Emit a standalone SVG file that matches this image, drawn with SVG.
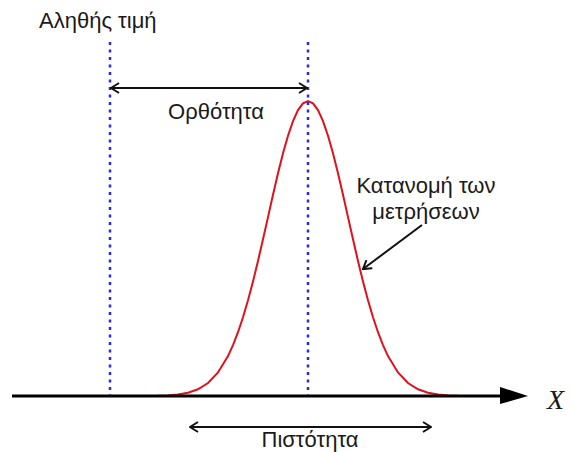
<svg xmlns="http://www.w3.org/2000/svg" width="573" height="452" viewBox="0 0 573 452">
<style>
.lbl{font-family:"Liberation Sans",Arial,sans-serif;font-size:22px;fill:#1a1a1a}
.dot{stroke:#2a2ae0;stroke-width:2.5;stroke-dasharray:3 4.5;fill:none}
.arr{stroke:#111;stroke-width:2;fill:none;marker-end:url(#open);marker-start:url(#openS)}
</style>
<defs>
<marker id="open" viewBox="0 0 12 12" refX="11" refY="6" markerWidth="12" markerHeight="12" markerUnits="userSpaceOnUse" orient="auto">
<path d="M3,1 L11,6 L3,11" fill="none" stroke="#111" stroke-width="2"/>
</marker>
<marker id="openS" viewBox="0 0 12 12" refX="1" refY="6" markerWidth="12" markerHeight="12" markerUnits="userSpaceOnUse" orient="auto">
<path d="M9,1 L1,6 L9,11" fill="none" stroke="#111" stroke-width="2"/>
</marker>
</defs>
<g id="curve">
<polyline fill="none" stroke="#e0101c" stroke-width="2" points="88,396 158,395.8 168,395.4 178,394.5 188,392.7 198,389.3 208,383 218,372.5 228,356.1 233,345.1 238,332.2 243,317.2 248,300.2 253,281.4 258,260.9 263,239.3 268,217.1 273,194.8 278,173.3 283,153.3 288,135.7 293,121.1 298,110.1 303,103.3 308,101 313,103.3 318,110.1 323,121.1 328,135.7 333,153.3 338,173.3 343,194.8 348,217.1 353,239.3 358,260.9 363,281.4 368,300.2 373,317.2 378,332.2 383,345.1 388,356.1 398,372.5 408,383 418,389.3 428,392.7 438,394.5 448,395.4 458,395.8 480,396"/>
</g>
<g id="true-value">
<line class="dot" x1="110" y1="42" x2="110" y2="396"/>
<text class="lbl" x="39" y="28">Αληθής τιμή</text>
</g>
<g id="mean-line">
<line class="dot" x1="308" y1="42" x2="308" y2="396"/>
</g>
<g id="axis">
<line x1="12" y1="396" x2="503" y2="396" stroke="#000" stroke-width="3"/>
<polygon points="500,387 528,396 500,404" fill="#000"/>
<text x="547" y="409" font-family="'Liberation Serif','Times New Roman',serif" font-style="italic" font-size="28" fill="#1a1a1a">X</text>
</g>
<g id="connectors">
<line class="arr" x1="111" y1="88" x2="307" y2="88"/>
<line class="arr" x1="190" y1="427" x2="431" y2="427"/>
<line x1="422" y1="225" x2="363" y2="269" stroke="#111" stroke-width="2" marker-end="url(#open)"/>
</g>
<g id="labels">
<text class="lbl" x="216" y="119" text-anchor="middle">Ορθότητα</text>
<text class="lbl" x="426" y="193" text-anchor="middle">Κατανομή των</text>
<text class="lbl" x="426" y="219" text-anchor="middle">μετρήσεων</text>
<text class="lbl" x="310" y="447" text-anchor="middle">Πιστότητα</text>
</g>
</svg>
